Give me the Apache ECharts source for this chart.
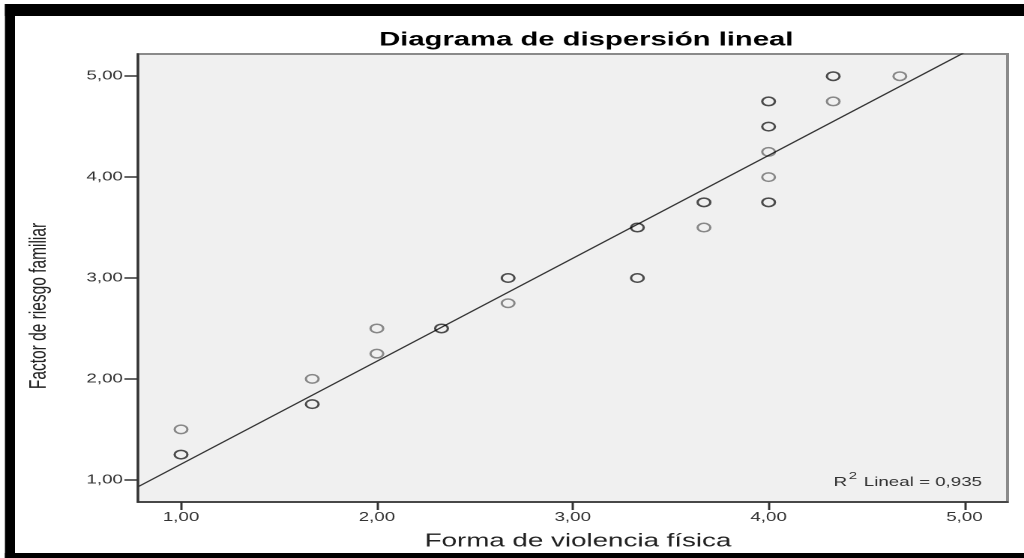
<!DOCTYPE html>
<html>
<head>
<meta charset="utf-8">
<script src="https://cdn.jsdelivr.net/npm/echarts@6/dist/echarts.min.js"></script>
<style>
  html, body { margin: 0; padding: 0; background: #ffffff; overflow: hidden; }
  #chart { position: absolute; left: 0; top: 0; width: 683px; height: 558px;
           transform: scaleX(1.4993); transform-origin: 0 0; }
</style>
</head>
<body>
<div id="chart"></div>
<script>
// ---- data ----
const titleText = 'Diagrama de dispersión lineal';
const xAxisTitle = 'Forma de violencia física';
const yAxisTitle = 'Factor de riesgo familiar';
const tickValues = [1, 2, 3, 4, 5];
const axisRange = [0.78, 5.22];
// x (Forma de violencia física), y (Factor de riesgo familiar), number of overlapping cases
const xValues = [1, 1, 1.67, 1.67, 2, 2, 2.33, 2.67, 2.67, 3.33, 3.33, 3.67, 3.67, 4, 4, 4, 4, 4, 4.33, 4.33, 4.67];
const yValues = [1.5, 1.25, 2, 1.75, 2.5, 2.25, 2.5, 3, 2.75, 3.5, 3, 3.75, 3.5, 4.75, 4.5, 4.25, 4, 3.75, 5, 4.75, 5];
const caseCounts = [1, 2, 1, 2, 1, 1, 2, 2, 1, 2, 2, 2, 1, 2, 2, 1, 1, 2, 2, 1, 1];
// fitted line: intercept, slope
const fitLine = [0.135, 1.02];
const r2Label = '0,935';

// ---- build series data ----
const scatterData = [];
xValues.forEach((x, i) => {
  for (let k = 0; k < caseCounts[i]; k++) scatterData.push([x, yValues[i]]);
});
const lineData = axisRange.map(x => [x, fitLine[0] + fitLine[1] * x]);

const fmt = v => v.toFixed(2).replace('.', ',');
const FONT = '"Liberation Sans", Arial, sans-serif';

const chart = echarts.init(document.getElementById('chart'), null, { renderer: 'canvas', devicePixelRatio: 2 });
chart.setOption({
  animation: false,
  backgroundColor: '#ffffff',
  title: [
    {
      text: titleText,
      left: 386, top: 25, textAlign: 'center',
      textStyle: { fontFamily: FONT, fontSize: 19.5, fontWeight: 'bold', color: '#000' }
    },
    {
      text: '{r|R}{s|2}{r| Lineal = ' + r2Label + '}',
      right: 23, top: 466,
      textStyle: {
        fontFamily: FONT, fontWeight: 'normal',
        rich: {
          r: { fontFamily: FONT, fontWeight: 'normal', fontSize: 12.5, color: '#333', lineHeight: 18, verticalAlign: 'bottom' },
          s: { fontFamily: FONT, fontWeight: 'normal', fontSize: 10, color: '#333', lineHeight: 18, verticalAlign: 'top', padding: [0, 1, 0, 1] }
        }
      }
    }
  ],
  grid: {
    left: 92, right: 11, top: 54, bottom: 56,
    show: true, backgroundColor: '#f0f0f0', borderColor: '#8a8a8a', borderWidth: 2
  },
  xAxis: {
    type: 'value', min: axisRange[0], max: axisRange[1],
    name: xAxisTitle, nameLocation: 'middle', nameGap: 30,
    nameTextStyle: { fontFamily: FONT, fontSize: 18.5, color: '#222', padding: [0, 0, 0, 7] },
    splitLine: { show: false },
    axisLine: { show: true, onZero: false, lineStyle: { color: '#333', width: 1.5 } },
    axisTick: { show: true, length: 8, customValues: tickValues, lineStyle: { color: '#333', width: 1.5 } },
    axisLabel: { customValues: tickValues, formatter: fmt, margin: 9, fontFamily: FONT, fontSize: 12.5, color: '#333' }
  },
  yAxis: {
    type: 'value', min: axisRange[0], max: axisRange[1],
    name: yAxisTitle, nameLocation: 'middle', nameGap: 58,
    nameTextStyle: { fontFamily: FONT, fontSize: 15.5, color: '#222', padding: [0, 56, 0, 0] },
    splitLine: { show: false },
    axisLine: { show: true, onZero: false, lineStyle: { color: '#333', width: 1.5 } },
    axisTick: { show: true, length: 9, customValues: tickValues, lineStyle: { color: '#333', width: 1.5 } },
    axisLabel: { customValues: tickValues, formatter: fmt, margin: 10, fontFamily: FONT, fontSize: 12.5, color: '#333' }
  },
  series: [
    {
      type: 'line', data: lineData, showSymbol: false, clip: true, silent: true,
      lineStyle: { color: '#333', width: 1.2 }, z: 2
    },
    {
      type: 'scatter', data: scatterData, symbol: 'circle', symbolSize: 8.5,
      itemStyle: { color: 'rgba(0,0,0,0)', borderColor: 'rgba(0,0,0,0.55)', borderWidth: 1.5 }, z: 3
    }
  ],
  graphic: [
    { type: 'rect', shape: { x: 3.3, y: 4, width: 680, height: 12 }, style: { fill: '#000' }, silent: true },
    { type: 'rect', shape: { x: 3.3, y: 4, width: 6.7, height: 554 }, style: { fill: '#000' }, silent: true },
    { type: 'rect', shape: { x: 3.3, y: 553, width: 680, height: 5 }, style: { fill: '#000' }, silent: true }
  ]
});
</script>
</body>
</html>
